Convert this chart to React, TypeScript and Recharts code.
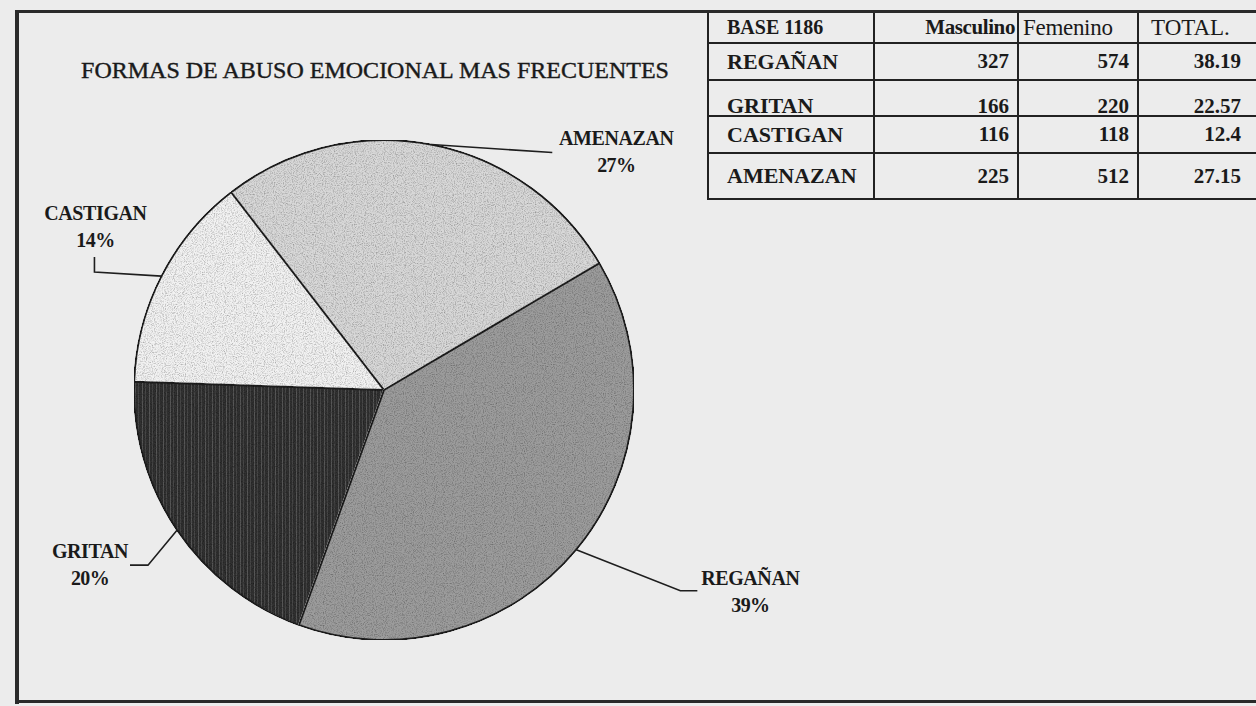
import React from 'react';
import { PieChart, Pie, Cell } from 'recharts';

// pie slices, in drawing order (counter-clockwise from the upper right)
const categories = ['AMENAZAN', 'CASTIGAN', 'GRITAN', 'REGAÑAN'];
const percents = [27, 14, 20, 39];

// table on the upper right
const tableHeader = ['BASE 1186', 'Masculino', 'Femenino', 'TOTAL.'];
const tableRows = ['REGAÑAN', 'GRITAN', 'CASTIGAN', 'AMENAZAN'];
const masculino = [327, 166, 116, 225];
const femenino = [574, 220, 118, 512];
const totals = ['38.19', '22.57', '12.4', '27.15'];

// base tones, darkened a bit by the grain filter
const FILLS: Record<string, string> = {
  AMENAZAN: '#d8d8d8',
  CASTIGAN: '#f2f2f2',
  GRITAN: 'url(#stripes)',
  'REGAÑAN': '#9c9c9c',
};

// leader line elbows and text spot, relative to the point on the rim
const LABEL_LAYOUT: Record<string, { path: number[][]; text: number[] }> = {
  AMENAZAN: { path: [[121, 8]], text: [185, 0] },
  CASTIGAN: { path: [[-67, -4], [-67, -19]], text: [-66, -56] },
  GRITAN: { path: [[-29, 35], [-47, 35]], text: [-87, 28] },
  'REGAÑAN': { path: [[104, 41], [121, 41]], text: [174, 35] },
};

const RADIAN = Math.PI / 180;
const FONT = '"Liberation Serif", "Times New Roman", serif';

const renderLabel = (props: any) => {
  const { cx, cy, midAngle, outerRadius, value } = props;
  const name = props.name ?? props.payload?.name;
  const layout = LABEL_LAYOUT[name];
  if (!layout) return null;
  const px = cx + outerRadius * Math.cos(-midAngle * RADIAN);
  const py = cy + outerRadius * Math.sin(-midAngle * RADIAN);
  const pts = [[px, py], ...layout.path.map(([dx, dy]) => [px + dx, py + dy])];
  const tx = px + layout.text[0];
  const ty = py + layout.text[1];
  return (
    <g>
      <polyline
        points={pts.map((p) => p.join(',')).join(' ')}
        fill="none"
        stroke="#1e1e1e"
        strokeWidth={1.6}
      />
      <text x={tx} y={ty} textAnchor="middle" fontFamily={FONT} fontSize={20} fontWeight="bold" fill="#1a1a1a" letterSpacing={-0.4}>
        {name}
      </text>
      <text x={tx} y={ty + 27} textAnchor="middle" fontFamily={FONT} fontSize={20} fontWeight="bold" fill="#1a1a1a" letterSpacing={-0.6}>
        {value}%
      </text>
    </g>
  );
};

const rowHeights = [37, 35, 37, 46];
const colWidths = [166, 144, 120, 119];

export default function App() {
  const data = categories.map((name, i) => ({ name, value: percents[i] }));

  const cell = (extra: React.CSSProperties): React.CSSProperties => ({
    borderLeft: '2px solid #222',
    borderBottom: '2px solid #222',
    padding: '0 8px',
    whiteSpace: 'nowrap',
    ...extra,
  });

  return (
    <div
      style={{
        position: 'absolute',
        left: 0,
        top: 0,
        width: 1256,
        height: 706,
        background: '#ececec',
        overflow: 'hidden',
        fontFamily: FONT,
        color: '#1a1a1a',
      }}
    >
      {/* frame */}
      <div style={{ position: 'absolute', left: 15, top: 10, width: 1241, height: 3, background: '#2a2a2a' }} />
      <div style={{ position: 'absolute', left: 15, top: 10, width: 4, height: 694, background: '#2a2a2a' }} />
      <div style={{ position: 'absolute', left: 15, top: 700, width: 1241, height: 3, background: '#2a2a2a' }} />

      <div
        style={{
          position: 'absolute',
          left: 75,
          top: 56,
          width: 600,
          textAlign: 'center',
          fontSize: 24,
          lineHeight: '28px',
          WebkitTextStroke: '0.4px #1a1a1a',
        }}
      >
        FORMAS DE ABUSO EMOCIONAL MAS FRECUENTES
      </div>

      <PieChart width={1256} height={706} style={{ position: 'absolute', left: 0, top: 0 }}>
        <defs>
          <pattern id="stripes" width="7" height="10" patternUnits="userSpaceOnUse">
            <rect width="7" height="10" fill="#303030" />
            <rect x="2" width="1" height="10" fill="#575757" />
            <rect x="5" width="1" height="10" fill="#464646" />
          </pattern>
          <filter id="grain" x="0" y="0" width="100%" height="100%">
            <feTurbulence type="fractalNoise" baseFrequency="0.9" numOctaves="2" seed="4" result="noise" />
            <feColorMatrix
              in="noise"
              type="matrix"
              values="1.2 0 0 0 0.3  1.2 0 0 0 0.3  1.2 0 0 0 0.3  0 0 0 0 1"
              result="gray"
            />
            <feBlend in="SourceGraphic" in2="gray" mode="multiply" result="mixed" />
            <feComposite in="mixed" in2="SourceGraphic" operator="in" />
          </filter>
        </defs>
        <Pie
          data={data}
          dataKey="value"
          nameKey="name"
          cx={379}
          cy={385}
          outerRadius={250}
          startAngle={30.5}
          endAngle={390.5}
          stroke="#1e1e1e"
          strokeWidth={2}
          labelLine={false}
          label={renderLabel}
          isAnimationActive={false}
        >
          {data.map((d) => (
            <Cell key={d.name} fill={FILLS[d.name]} filter="url(#grain)" />
          ))}
        </Pie>
      </PieChart>

      <table
        style={{
          position: 'absolute',
          left: 707,
          top: 13,
          width: 549,
          borderCollapse: 'collapse',
          tableLayout: 'fixed',
          fontFamily: FONT,
        }}
      >
        <colgroup>
          {colWidths.map((w, i) => (
            <col key={i} style={{ width: w }} />
          ))}
        </colgroup>
        <tbody>
          <tr style={{ height: 30 }}>
            <td style={cell({ fontSize: 20, fontWeight: 'bold', paddingLeft: 18 })}>{tableHeader[0]}</td>
            <td style={cell({ fontSize: 21, fontWeight: 'bold', textAlign: 'right', padding: '0 2px', letterSpacing: -0.4 })}>
              {tableHeader[1]}
            </td>
            <td style={cell({ fontSize: 23, padding: '0 4px', letterSpacing: -0.3 })}>{tableHeader[2]}</td>
            <td style={cell({ fontSize: 23, paddingLeft: 12 })}>{tableHeader[3]}</td>
          </tr>
          {tableRows.map((name, i) => {
            const pad = name === 'GRITAN' ? { paddingTop: 16, lineHeight: '18px' } : {};
            return (
              <tr key={name} style={{ height: rowHeights[i] }}>
                <td style={cell({ fontSize: 22, fontWeight: 'bold', paddingLeft: 18, ...pad })}>{name}</td>
                <td style={cell({ fontSize: 21, fontWeight: 'bold', textAlign: 'right', ...pad })}>{masculino[i]}</td>
                <td style={cell({ fontSize: 21, fontWeight: 'bold', textAlign: 'right', ...pad })}>{femenino[i]}</td>
                <td style={cell({ fontSize: 21, fontWeight: 'bold', textAlign: 'right', paddingRight: 16, ...pad })}>
                  {totals[i]}
                </td>
              </tr>
            );
          })}
        </tbody>
      </table>
    </div>
  );
}
